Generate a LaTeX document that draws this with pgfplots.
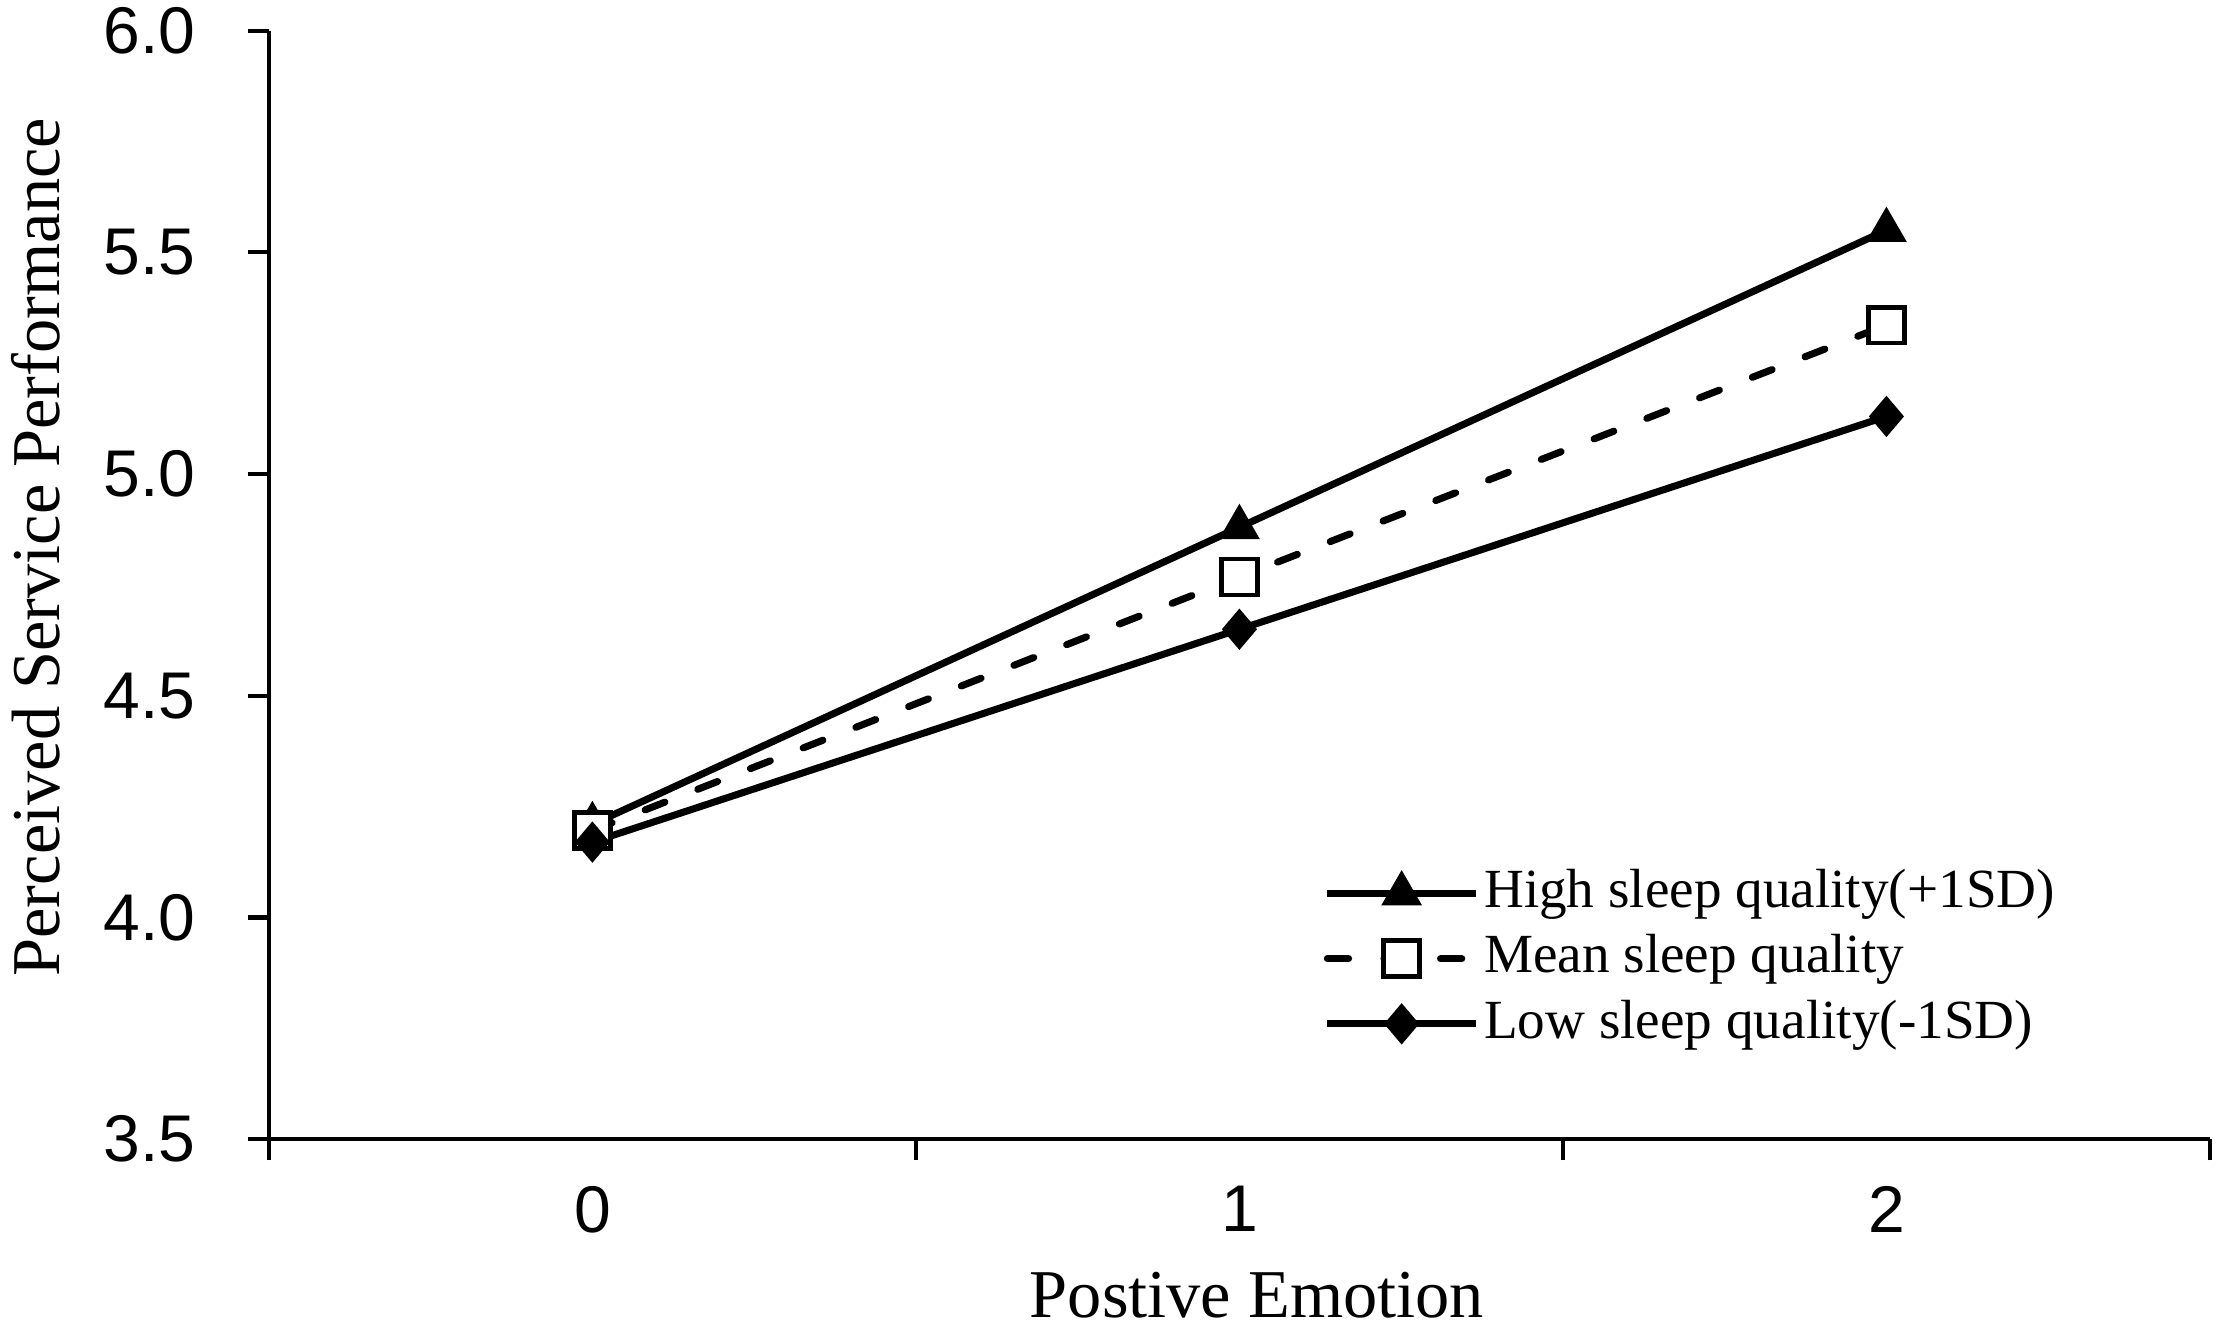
\documentclass[border=0pt]{standalone}
\usepackage{fontspec}
\setmainfont{Liberation Serif}
\newfontfamily\arial{Liberation Sans}
\usepackage{pgfplots}
\pgfplotsset{compat=1.18}
\begin{document}
\begin{tikzpicture}
\begin{axis}[
  scale only axis,
  width=411.5pt, height=235pt,
  xmin=-0.5, xmax=2.5, ymin=3.5, ymax=6.0,
  axis x line*=bottom, axis y line*=left,
  axis line style={line width=0.9pt, black},
  xtick={0,1,2},
  xticklabels={0,1,2},
  minor xtick={-0.5,0.5,1.5,2.5},
  ytick={3.5,4.0,4.5,5.0,5.5,6.0},
  y tick label style={/pgf/number format/fixed, /pgf/number format/fixed zerofill, /pgf/number format/precision=1},
  tick align=outside,
  major tick length=4.5pt,
  minor tick length=4.5pt,
  x tick style={draw=none},
  minor x tick style={draw=black, line width=0.9pt},
  y tick style={line width=0.9pt, black},
  /pgf/number format/assume math mode=true,
  ticklabel style={font=\arial\fontsize{14}{16}\selectfont},
  yticklabel style={xshift=-7.5pt},
  xticklabel style={yshift=-2pt},
  xlabel={Postive Emotion},
  ylabel={Perceived Service Performance},
  label style={font=\fontsize{14.5}{17}\selectfont},
  xlabel style={at={(axis description cs:0.509,-0.1404)}, anchor=center, inner sep=0pt},
  ylabel style={at={(axis description cs:-0.1203,0.534)}, anchor=center, inner sep=0pt},
  legend cell align=left,
  legend style={at={(rel axis cs:0.543,0.250)}, anchor=north west, draw=none, fill=none,
    font=\fontsize{11.7}{13}\selectfont, row sep=0.8pt, inner sep=0pt,
    nodes={inner sep=1pt, text height=8.5pt, text depth=2.5pt}},
  legend image code/.code={\draw[mark repeat=2, mark phase=2, #1] plot coordinates {(0pt,0pt) (15.75pt,0pt) (31.5pt,0pt)};},
  clip=false,
]
\addplot[black, line width=1.5pt, mark=triangle*, mark size=4.5pt, mark options={solid, fill=black, line width=0.5pt}]
  coordinates {(0,4.21) (1,4.88) (2,5.55)};
\addlegendentry{High sleep quality(+1SD)}
\addplot[black, line width=1.5pt, line cap=round, dash pattern=on 4.5pt off 7.5pt, mark=square*, mark size=3.8pt, mark options={solid, fill=white, line width=1pt}]
  coordinates {(0,4.196) (1,4.768) (2,5.336)};
\addlegendentry{Mean sleep quality}
\addplot[black, line width=1.5pt, mark=diamond*, mark size=4pt, mark options={solid, fill=black, line width=0.5pt, xscale=1.13}]
  coordinates {(0,4.17) (1,4.65) (2,5.13)};
\addlegendentry{Low sleep quality(-1SD)}
\end{axis}
\pgfresetboundingbox
\path (current axis.south west) ++(-57pt,-39.8pt) rectangle ++(470pt,281.3pt);
\end{tikzpicture}
\end{document}
